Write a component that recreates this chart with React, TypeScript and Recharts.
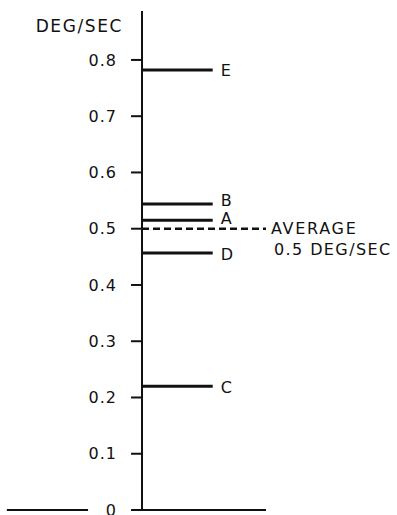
import React from 'react';
import { ComposedChart, XAxis, YAxis, ReferenceLine } from 'recharts';

// rates (deg/sec)
const itemNames = ['E', 'B', 'A', 'D', 'C'];
const itemRates = [0.782, 0.544, 0.515, 0.457, 0.22];
const labelNudge = [0, -4, -2, 1, 1];
const itemLineEnd = 0.57;
const averageRate = 0.5;
const averageText = ['AVERAGE', '0.5 DEG/SEC'];
const yTicks = [0, 0.1, 0.2, 0.3, 0.4, 0.5, 0.6, 0.7, 0.8];
const leftStub = [-1.09, -0.435];

const FONT = '"DejaVu Sans", sans-serif';
const INK = '#111';

const itemLabel = (name: string, nudge: number) => (props: any) => {
  const vb = props.viewBox || {};
  return (
    <text x={vb.x + (vb.width || 0) + 8} y={vb.y + nudge} dy="0.36em" fontFamily={FONT} fontSize={16} fill={INK}>
      {name}
    </text>
  );
};

const averageLabel = (props: any) => {
  const vb = props.viewBox || {};
  const x = vb.x + (vb.width || 0);
  return (
    <g fontFamily={FONT} fontSize={16} fill={INK}>
      <text x={x + 5} y={vb.y} dy="0.36em" letterSpacing={1.7}>{averageText[0]}</text>
      <text x={x + 8} y={vb.y + 21} dy="0.36em" letterSpacing={1.4}>{averageText[1]}</text>
    </g>
  );
};

const unitLabel = (props: any) => {
  const vb = props.viewBox || {};
  return (
    <text x={vb.x + vb.width - 19} y={vb.y + 21} textAnchor="end" fontFamily={FONT} fontSize={17} letterSpacing={1.6} fill={INK}>
      DEG/SEC
    </text>
  );
};

export default function App() {
  return (
    <>
      {/* drop the default body margin so the 515px chart fits the page exactly */}
      <style>{'body{margin:0;overflow:hidden}'}</style>
      <ComposedChart width={397} height={515} margin={{ top: 11, right: 131, bottom: 3, left: 0 }}>
        <XAxis
          type="number"
          dataKey="x"
          domain={[0, 1]}
          allowDataOverflow
          tick={false}
          tickLine={false}
          height={2}
          axisLine={{ stroke: INK, strokeWidth: 2 }}
        />
        <YAxis
          type="number"
          domain={[0, 0.887]}
          allowDataOverflow
          ticks={yTicks}
          interval={0}
          width={142}
          tickSize={11}
          tickMargin={14}
          tickFormatter={(v: number) => (v === 0 ? '0' : v.toFixed(1))}
          tick={{ fontFamily: FONT, fontSize: 16, fill: INK, letterSpacing: 1 }}
          tickLine={{ stroke: INK, strokeWidth: 2 }}
          axisLine={{ stroke: INK, strokeWidth: 2 }}
          label={unitLabel}
        />
        <ReferenceLine
          segment={[{ x: leftStub[0], y: 0 }, { x: leftStub[1], y: 0 }]}
          stroke={INK}
          strokeWidth={2}
          ifOverflow="visible"
        />
        {itemNames.map((name, i) => (
          <ReferenceLine
            key={name}
            segment={[{ x: 0, y: itemRates[i] }, { x: itemLineEnd, y: itemRates[i] }]}
            stroke={INK}
            strokeWidth={3}
            ifOverflow="visible"
            label={itemLabel(name, labelNudge[i])}
          />
        ))}
        <ReferenceLine
          segment={[{ x: 0, y: averageRate }, { x: 1, y: averageRate }]}
          stroke={INK}
          strokeWidth={2.5}
          strokeDasharray="7 4"
          ifOverflow="visible"
          label={averageLabel}
        />
      </ComposedChart>
    </>
  );
}
